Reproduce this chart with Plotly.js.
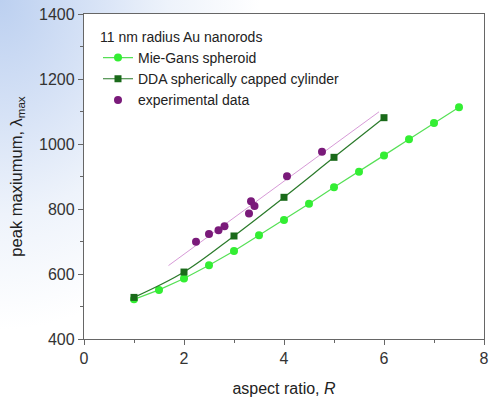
<!DOCTYPE html>
<html>
<head>
<meta charset="utf-8">
<script src="https://cdn.plot.ly/plotly-3.0.1.min.js"></script>
<style>
html,body{margin:0;padding:0;width:490px;height:397px;overflow:hidden;
background: radial-gradient(ellipse 260px 330px at 0px 0px, #bcd0f0 0%, #d6e2f6 35%, #eef3fb 65%, #ffffff 100%);}
#chart{width:490px;height:397px;}
</style>
</head>
<body>
<div id="chart"></div>
<script>
// Mie-Gans spheroid
const mieR = [1, 1.5, 2, 2.5, 3, 3.5, 4, 4.5, 5, 5.5, 6, 6.5, 7, 7.5];
const mieL = [522, 551, 586, 627, 671, 719, 766, 816, 867, 915, 965, 1015, 1065, 1113];
// DDA spherically capped cylinder
const ddaR = [1, 2, 3, 4, 5, 6];
const ddaL = [528, 606, 717, 836, 959, 1081];
// experimental data
const expR = [2.24, 2.5, 2.69, 2.81, 3.3, 3.34, 3.41, 4.06, 4.76];
const expL = [699, 723, 735, 747, 786, 824, 809, 901, 976];
// fit line through experimental data
const fitR = [1.69, 5.9];
const fitL = [626, 1099];

const traces = [
  {x: fitR, y: fitL, mode: 'lines', line: {color: '#d79ad7', width: 1}, showlegend: false, hoverinfo: 'skip'},
  {x: mieR, y: mieL, mode: 'lines+markers', name: 'Mie-Gans spheroid',
   line: {color: '#55e055', width: 1.2}, marker: {symbol: 'circle', size: 8, color: '#33ee33'}},
  {x: ddaR, y: ddaL, mode: 'lines+markers', name: 'DDA spherically capped cylinder',
   line: {color: '#2a7a2a', width: 1.2, shape: 'spline'}, marker: {symbol: 'square', size: 7, color: '#1a6a1a'}},
  {x: expR, y: expL, mode: 'markers', name: 'experimental data',
   marker: {symbol: 'circle', size: 8, color: '#7a1a7a'}}
];

const axisCommon = {
  showline: true, linecolor: '#666', linewidth: 1.2, mirror: true,
  ticks: 'outside', ticklen: 5, tickcolor: '#666', tickwidth: 1,
  showgrid: false, zeroline: false,
  tickfont: {family: 'Liberation Sans, Arial, sans-serif', size: 16, color: '#333'}
};

const layout = {
  width: 490, height: 397,
  margin: {l: 84, r: 6, t: 14, b: 58},
  paper_bgcolor: 'rgba(0,0,0,0)',
  plot_bgcolor: '#ffffff',
  font: {family: 'Liberation Sans, Arial, sans-serif', color: '#222'},
  xaxis: Object.assign({}, axisCommon, {
    range: [0, 8], dtick: 2, tick0: 0,
    minor: {dtick: 1, ticks: 'outside', ticklen: 3, tickcolor: '#666'},
    title: {text: 'aspect ratio, <i>R</i>', font: {size: 16, color: '#222'}, standoff: 16}
  }),
  yaxis: Object.assign({}, axisCommon, {
    range: [400, 1400], dtick: 200, tick0: 400,
    minor: {dtick: 100, ticks: 'outside', ticklen: 3, tickcolor: '#666'},
    title: {text: 'peak maxiumum, λ<sub>max</sub>', font: {size: 16.5, color: '#222'}, standoff: 12}
  }),
  legend: {
    x: 0.035, y: 0.97, xanchor: 'left', yanchor: 'top',
    bgcolor: 'rgba(0,0,0,0)',
    font: {size: 14, color: '#222'},
    title: {text: '11 nm radius Au nanorods', font: {size: 14, color: '#222'}, side: 'top'},
    tracegroupgap: 0, itemwidth: 30
  },
  showlegend: true
};

Plotly.newPlot('chart', traces, layout, {displayModeBar: false, staticPlot: true});
</script>
</body>
</html>
